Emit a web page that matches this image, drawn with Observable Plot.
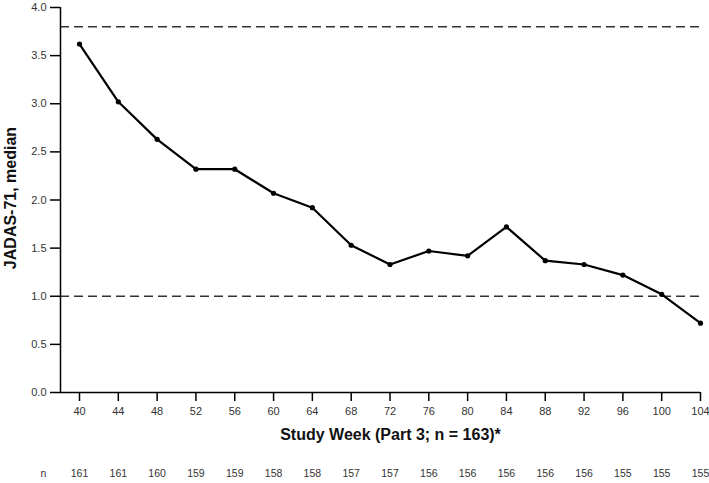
<!DOCTYPE html>
<html>
<head>
<meta charset="utf-8">
<script src="https://cdn.jsdelivr.net/npm/d3@7"></script>
<script src="https://cdn.jsdelivr.net/npm/@observablehq/plot@0.6"></script>
<style>
  html, body { margin: 0; padding: 0; background: white; }
</style>
</head>
<body>
<div id="chart"></div>
<script>
const weeks = [40, 44, 48, 52, 56, 60, 64, 68, 72, 76, 80, 84, 88, 92, 96, 100, 104];
const medians = [3.62, 3.02, 2.63, 2.32, 2.32, 2.07, 1.92, 1.53, 1.33, 1.47, 1.42, 1.72, 1.37, 1.33, 1.22, 1.02, 0.72];
const nValues = [161, 161, 160, 159, 159, 158, 158, 157, 157, 156, 156, 156, 156, 156, 155, 155, 155];
const yTicks = [0.0, 0.5, 1.0, 1.5, 2.0, 2.5, 3.0, 3.5, 4.0];
const refLines = [3.8, 1.0];
const xLabel = "Study Week (Part 3; n = 163)*";
const yLabel = "JADAS-71, median";

const data = weeks.map((w, i) => ({week: w, median: medians[i], n: nValues[i]}));

const chart = Plot.plot({
  width: 709,
  height: 483,
  marginLeft: 60,
  marginRight: 9,
  marginTop: 7,
  marginBottom: 91,
  style: {fontFamily: "'Liberation Sans', Arial, sans-serif", fontSize: "11px", color: "black", background: "white"},
  x: {domain: [40, 104], insetLeft: 19},
  y: {domain: [0, 4]},
  marks: [
    Plot.ruleY(refLines, {stroke: "#333", strokeWidth: 1.5, strokeDasharray: "9,5"}),
    Plot.axisX({ticks: weeks, tickFormat: d => String(d), tickSize: 9, tickPadding: 6, label: null, strokeWidth: 1.5, fill: "#333"}),
    Plot.axisY({ticks: yTicks, tickFormat: d3.format(".1f"), tickSize: 10, tickPadding: 4, label: null, strokeWidth: 1.5, fill: "#333"}),
    Plot.ruleY([0], {stroke: "black", strokeWidth: 1.5}),
    Plot.ruleX([40], {dx: -19, stroke: "black", strokeWidth: 1.5}),
    Plot.line(data, {x: "week", y: "median", stroke: "black", strokeWidth: 2.2}),
    Plot.dot(data, {x: "week", y: "median", r: 2.6, fill: "black"}),
    Plot.text(data, {x: "week", text: d => String(d.n), frameAnchor: "bottom", dy: 84, fontSize: 10.5, fill: "#333"}),
    Plot.text(["n"], {text: d => d, frameAnchor: "bottom-left", textAnchor: "middle", dx: -17, dy: 84, fontSize: 10.5, fill: "#333"}),
    Plot.text([xLabel], {text: d => d, frameAnchor: "bottom", dx: 10, dy: 47, fontSize: 16, fontWeight: "bold", fill: "#111"}),
    Plot.text([yLabel], {text: d => d, frameAnchor: "left", textAnchor: "middle", rotate: -90, dx: -50, dy: -2, fontSize: 16, fontWeight: "bold", fill: "#111"})
  ]
});
document.getElementById("chart").appendChild(chart);
</script>
</body>
</html>
